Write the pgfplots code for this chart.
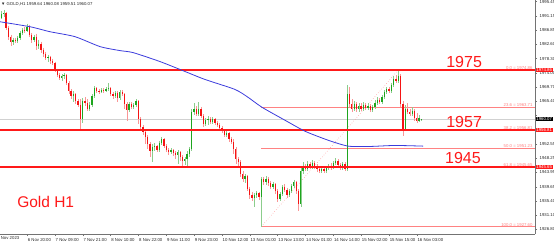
\documentclass[border=0pt]{standalone}
\usepackage{fontspec}
\setmainfont{Liberation Sans}
\usepackage{pgfplots}
\usepackage{pgfplotstable}
\pgfplotsset{compat=1.18}
\definecolor{bull}{RGB}{30,165,30}
\definecolor{bullw}{RGB}{140,205,140}
\definecolor{bear}{RGB}{245,20,20}
\definecolor{bearw}{RGB}{250,150,150}
\definecolor{ma}{RGB}{60,60,220}
\definecolor{fib}{RGB}{255,130,130}
\definecolor{lvl}{RGB}{255,25,25}

\pgfplotstableread{
x o h l c
0 1990.6 1992.7 1990.3 1991.8
1 1991.8 1993.0 1990.9 1992.1
2 1992.1 1992.4 1987.0 1987.6
3 1987.6 1988.2 1984.0 1984.9
4 1984.9 1985.5 1982.2 1983.4
5 1983.4 1984.6 1982.5 1984.0
6 1984.0 1984.6 1983.1 1983.7
7 1983.7 1985.2 1983.1 1984.6
8 1984.6 1986.7 1984.0 1986.1
9 1986.1 1987.6 1985.5 1987.0
10 1987.0 1987.9 1986.1 1986.7
11 1986.7 1988.8 1986.4 1987.9
12 1987.9 1988.5 1984.9 1985.5
13 1985.5 1986.1 1983.1 1984.0
14 1984.0 1985.5 1983.4 1984.9
15 1984.9 1985.8 1981.0 1982.2
16 1982.2 1984.0 1981.3 1982.8
17 1982.8 1983.4 1980.1 1981.0
18 1981.0 1981.6 1978.9 1979.8
19 1979.8 1980.4 1978.0 1978.6
20 1978.6 1979.5 1977.4 1978.9
21 1978.9 1979.2 1976.8 1977.7
22 1977.7 1978.3 1976.5 1977.1
23 1977.1 1977.4 1974.4 1975.0
24 1975.0 1975.3 1972.6 1973.2
25 1973.2 1973.8 1971.7 1972.3
26 1972.3 1973.5 1971.4 1972.9
27 1972.9 1973.8 1972.0 1973.2
28 1973.2 1973.5 1970.2 1970.8
29 1970.8 1971.4 1967.5 1968.4
30 1968.4 1969.0 1966.0 1966.9
31 1966.9 1968.4 1965.1 1967.5
32 1967.5 1967.8 1964.5 1965.4
33 1965.4 1966.0 1963.6 1964.2
34 1964.2 1966.0 1957.0 1960.0
35 1960.0 1966.3 1958.8 1965.4
36 1965.4 1966.6 1963.9 1964.8
37 1964.8 1966.0 1962.4 1963.0
38 1963.0 1965.1 1962.4 1964.2
39 1964.2 1967.5 1963.6 1966.9
40 1966.9 1969.9 1966.3 1969.3
41 1969.3 1969.6 1967.8 1968.4
42 1968.4 1969.0 1967.5 1968.1
43 1968.1 1969.3 1967.8 1968.7
44 1968.7 1969.3 1967.8 1968.4
45 1968.4 1969.6 1968.1 1969.0
46 1969.0 1970.8 1968.4 1969.3
47 1969.3 1969.6 1966.9 1967.5
48 1967.5 1968.1 1966.0 1966.9
49 1966.9 1968.4 1966.3 1967.8
50 1967.8 1968.4 1965.1 1966.3
51 1966.3 1968.7 1965.7 1968.1
52 1968.1 1968.7 1966.9 1967.5
53 1967.5 1967.8 1963.0 1964.5
54 1964.5 1965.1 1959.4 1962.7
55 1962.7 1965.1 1962.1 1964.5
56 1964.5 1965.1 1963.0 1963.6
57 1963.6 1964.8 1963.0 1964.2
58 1964.2 1966.0 1963.6 1965.4
59 1965.4 1965.7 1958.5 1960.0
60 1960.0 1960.6 1956.4 1957.6
61 1957.6 1958.2 1955.2 1956.1
62 1956.1 1956.7 1952.5 1954.6
63 1954.6 1955.2 1951.0 1952.5
64 1952.5 1953.1 1948.6 1950.4
65 1950.4 1952.5 1947.1 1951.6
66 1951.6 1952.8 1950.4 1951.9
67 1951.9 1952.2 1950.1 1950.7
68 1950.7 1953.4 1950.1 1952.8
69 1952.8 1954.6 1952.2 1954.0
70 1954.0 1954.3 1951.3 1951.9
71 1951.9 1952.5 1950.1 1950.7
72 1950.7 1951.3 1949.2 1950.1
73 1950.1 1951.3 1949.5 1950.7
74 1950.7 1951.0 1948.9 1949.8
75 1949.8 1950.4 1948.0 1949.2
76 1949.2 1950.7 1946.5 1950.1
77 1950.1 1950.4 1947.4 1948.6
78 1948.6 1949.2 1945.9 1947.4
79 1947.4 1948.6 1946.2 1948.0
80 1948.0 1950.4 1945.6 1949.5
81 1949.5 1951.6 1948.6 1951.0
82 1951.0 1963.0 1950.4 1962.1
83 1962.1 1964.8 1961.2 1963.0
84 1963.0 1963.9 1960.9 1961.5
85 1961.5 1965.1 1960.9 1963.0
86 1963.0 1963.6 1960.3 1960.9
87 1960.9 1961.5 1957.6 1958.5
88 1958.5 1960.3 1957.9 1959.7
89 1959.7 1960.9 1958.2 1960.0
90 1960.0 1960.6 1958.5 1959.1
91 1959.1 1960.6 1958.5 1960.0
92 1960.0 1960.3 1958.2 1958.8
93 1958.8 1959.4 1957.6 1958.2
94 1958.2 1958.8 1956.7 1957.3
95 1957.3 1957.9 1955.8 1956.7
96 1956.7 1957.0 1954.6 1955.2
97 1955.2 1956.4 1954.6 1955.8
98 1955.8 1956.1 1953.1 1954.0
99 1954.0 1954.6 1952.5 1953.1
100 1953.1 1954.0 1949.5 1951.0
101 1951.0 1951.6 1946.5 1948.0
102 1948.0 1948.6 1945.6 1947.1
103 1947.1 1947.7 1942.6 1943.5
104 1943.5 1944.4 1941.1 1942.0
105 1942.0 1943.5 1940.8 1942.9
106 1942.9 1943.2 1938.4 1939.0
107 1939.0 1939.6 1936.0 1937.2
108 1937.2 1938.1 1935.4 1936.3
109 1936.3 1937.8 1933.6 1937.2
110 1937.2 1938.4 1936.3 1937.8
111 1937.8 1938.1 1935.7 1936.6
112 1936.6 1942.6 1927.6 1942.0
113 1942.0 1942.6 1940.2 1941.1
114 1941.1 1942.9 1940.2 1942.0
115 1942.0 1942.6 1939.9 1940.8
116 1940.8 1941.4 1939.0 1939.6
117 1939.6 1941.1 1939.0 1940.5
118 1940.5 1940.8 1937.5 1938.4
119 1938.4 1939.0 1935.1 1936.0
120 1936.0 1938.1 1935.4 1937.5
121 1937.5 1940.2 1936.9 1939.6
122 1939.6 1940.5 1938.1 1938.7
123 1938.7 1939.3 1936.3 1937.2
124 1937.2 1939.0 1936.6 1938.4
125 1938.4 1940.5 1937.8 1939.9
126 1939.9 1941.7 1939.3 1941.1
127 1941.1 1941.4 1937.5 1938.4
128 1938.4 1939.0 1932.4 1934.5
129 1934.5 1945.6 1933.6 1944.4
130 1944.4 1947.1 1943.5 1945.9
131 1945.9 1946.5 1944.4 1945.0
132 1945.0 1947.4 1944.4 1946.5
133 1946.5 1947.1 1945.0 1945.6
134 1945.6 1947.7 1945.0 1946.8
135 1946.8 1947.4 1945.0 1945.9
136 1945.9 1946.5 1944.1 1945.0
137 1945.0 1945.6 1943.8 1944.4
138 1944.4 1945.6 1943.8 1945.0
139 1945.0 1945.6 1943.8 1944.4
140 1944.4 1945.9 1943.8 1945.3
141 1945.3 1946.5 1944.7 1945.9
142 1945.9 1946.8 1944.7 1945.3
143 1945.3 1947.4 1945.0 1946.8
144 1946.8 1948.3 1946.2 1947.4
145 1947.4 1948.0 1945.6 1946.2
146 1946.2 1946.8 1944.7 1945.3
147 1945.3 1947.1 1944.7 1946.5
148 1946.5 1947.1 1944.4 1945.0
149 1945.0 1970.2 1944.4 1967.5
150 1967.5 1969.6 1963.6 1964.5
151 1964.5 1966.0 1962.1 1963.0
152 1963.0 1965.4 1962.4 1964.5
153 1964.5 1965.1 1962.1 1963.0
154 1963.0 1964.8 1962.1 1963.9
155 1963.9 1964.8 1962.4 1963.0
156 1963.0 1965.1 1962.4 1964.2
157 1964.2 1964.8 1962.7 1963.3
158 1963.3 1964.8 1962.7 1963.9
159 1963.9 1964.5 1962.1 1962.7
160 1962.7 1964.2 1962.1 1963.6
161 1963.6 1965.7 1963.0 1964.8
162 1964.8 1966.6 1964.2 1965.7
163 1965.7 1966.3 1964.5 1965.1
164 1965.1 1967.2 1964.5 1966.6
165 1966.6 1968.7 1966.0 1968.1
166 1968.1 1969.6 1967.5 1969.0
167 1969.0 1969.6 1967.8 1968.4
168 1968.4 1970.8 1967.8 1970.2
169 1970.2 1972.9 1969.6 1972.0
170 1972.0 1973.2 1970.8 1971.4
171 1971.4 1974.86 1970.8 1972.9
172 1972.9 1973.5 1963.6 1964.5
173 1964.5 1965.4 1954.9 1957.0
174 1957.0 1964.2 1956.4 1963.0
175 1963.0 1964.8 1961.5 1962.1
176 1962.1 1963.0 1960.9 1961.5
177 1961.5 1963.6 1960.9 1962.4
178 1962.4 1963.0 1959.4 1960.3
179 1960.3 1961.8 1958.8 1959.4
180 1959.4 1961.2 1959.1 1960.3
181 1959.64 1960.08 1959.51 1960.07
}\candles

\pgfplotstableread{
x v
-0.65 1989.4
12.3 1987.9
20.9 1986.4
31.7 1984.9
42.5 1981.9
51.1 1980.7
56.7 1980.1
68.3 1977.4
79.1 1974.4
87.7 1972.0
100.6 1969.0
106.3 1966.6
112.3 1963.6
122.2 1959.7
130.8 1956.4
140.7 1953.7
149.4 1951.9
158.8 1951.8
169.6 1952.1
181.7 1951.9
}\matable

\pgfplotstableread{
x a b c
-0.65 1974.86 1956.81 1945.65
229.95 1974.86 1956.81 1945.65
}\levels

\begin{document}
\begin{tikzpicture}
\begin{axis}[
  scale only axis, width=535pt, height=234pt,
  at={(0pt,0pt)}, anchor=south west,
  xmin=-0.65, xmax=229.95, ymin=1925.4, ymax=1995.96,
  axis x line*=bottom, axis y line*=right,
  axis line style={black!55, line width=0.5pt},
  tick style={black!55, line width=0.4pt},
  tick align=outside, major tick length=2.2pt,
  xtick={11,23,35,47,59,71,83,95,107,119,131,143,155,167,179},
  xticklabels={6 Nov 20:00, 7 Nov 09:00, 7 Nov 21:00, 8 Nov 10:00, 8 Nov 22:00, 9 Nov 11:00, 9 Nov 23:00, 10 Nov 12:00, 13 Nov 01:00, 13 Nov 13:00, 14 Nov 01:00, 14 Nov 14:00, 15 Nov 02:00, 15 Nov 15:00, 16 Nov 03:00},
  ytick={1926.80,1931.10,1935.40,1939.65,1943.95,1948.25,1952.55,1956.85,1961.15,1965.40,1969.70,1974.00,1978.30,1982.60,1986.85,1991.15,1995.45},
  yticklabels={1926.80,1931.10,1935.40,1939.65,1943.95,1948.25,1952.55,{},{},1965.40,1969.70,1974.00,1978.30,1982.60,1986.85,1991.15,1995.45},
  xticklabel style={font=\fontsize{4.3}{5}\selectfont, anchor=north west, inner sep=0pt, xshift=0.6pt, yshift=-1.8pt, text=black!85},
  yticklabel style={font=\fontsize{4.3}{5}\selectfont, anchor=west, inner sep=0pt, xshift=2.3pt, text=black!85},
  clip=false,
]
% current price line
\addplot[color=black!18, line width=0.5pt] coordinates {(-0.65,1960.07) (229.95,1960.07)};
% fibonacci levels
\addplot[color=fib, line width=0.5pt] coordinates {(112,1963.71) (229.95,1963.71)};
\addplot[color=fib, line width=0.5pt] coordinates {(112,1951.23) (229.95,1951.23)};
\addplot[color=fib, line width=0.5pt] coordinates {(112,1927.60) (229.95,1927.60)};
\addplot[color=fib, dotted, line width=0.5pt] coordinates {(112,1927.60) (171,1974.86)};
% wicks
\addplot[draw=none, mark=none, restrict expr to domain={\thisrow{c}-\thisrow{o}}{0:1000},
  error bars/.cd, y dir=minus, y explicit, error mark=none,
  error bar style={draw=bullw, line width=0.55pt}]
  table[x=x, y=h, y error minus expr=\thisrow{h}-\thisrow{l}] {\candles};
\addplot[draw=none, mark=none, restrict expr to domain={\thisrow{o}-\thisrow{c}}{0.00001:1000},
  error bars/.cd, y dir=minus, y explicit, error mark=none,
  error bar style={draw=bearw, line width=0.55pt}]
  table[x=x, y=h, y error minus expr=\thisrow{h}-\thisrow{l}] {\candles};
% bodies
\addplot[draw=none, mark=none, restrict expr to domain={\thisrow{c}-\thisrow{o}}{0:1000},
  error bars/.cd, y dir=minus, y explicit, error mark=none,
  error bar style={draw=bull, line width=1.3pt}]
  table[x=x, y=c, y error minus expr=\thisrow{c}-\thisrow{o}] {\candles};
\addplot[draw=none, mark=none, restrict expr to domain={\thisrow{o}-\thisrow{c}}{0.00001:1000},
  error bars/.cd, y dir=minus, y explicit, error mark=none,
  error bar style={draw=bear, line width=1.3pt}]
  table[x=x, y=o, y error minus expr=\thisrow{o}-\thisrow{c}] {\candles};
% key levels (drawn over the candles)
\addplot[color=lvl, line width=1.5pt, mark=none] table[x=x, y=a] {\levels};
\addplot[color=lvl, line width=1.5pt, mark=none] table[x=x, y=b] {\levels};
\addplot[color=lvl, line width=1.5pt, mark=none] table[x=x, y=c] {\levels};
% moving average
\addplot[color=ma, line width=0.8pt, smooth, tension=0.4, mark=none] table[x=x, y=v] {\matable};

% fib labels
\node[anchor=south east, inner sep=0.3pt, text=fib, font=\fontsize{4.3}{5}\selectfont] at (axis cs:229.1,1974.86) {0.0 = 1974.86};
\node[anchor=south east, inner sep=0.3pt, text=fib, font=\fontsize{4.3}{5}\selectfont] at (axis cs:229.1,1963.71) {23.6 = 1963.71};
\node[anchor=south east, inner sep=0.3pt, text=fib, font=\fontsize{4.3}{5}\selectfont] at (axis cs:229.1,1956.81) {38.2 = 1956.81};
\node[anchor=south east, inner sep=0.3pt, text=fib, font=\fontsize{4.3}{5}\selectfont] at (axis cs:229.1,1951.23) {50.0 = 1951.23};
\node[anchor=south east, inner sep=0.3pt, text=fib, font=\fontsize{4.3}{5}\selectfont] at (axis cs:229.1,1945.65) {61.8 = 1945.65};
\node[anchor=south east, inner sep=0.3pt, text=fib, font=\fontsize{4.3}{5}\selectfont] at (axis cs:229.1,1927.60) {100.0 = 1927.60};
% big labels
\node[anchor=base, text=lvl, inner sep=0pt, font=\fontsize{16}{16}\selectfont] at (axis cs:199.4,1975.5) {1975};
\node[anchor=base, text=lvl, inner sep=0pt, font=\fontsize{16}{16}\selectfont] at (axis cs:199.4,1957.55) {1957};
\node[anchor=base, text=lvl, inner sep=0pt, font=\fontsize{16}{16}\selectfont] at (axis cs:198.9,1946.7) {1945};
\node[anchor=base west, text=lvl, inner sep=0pt, font=\fontsize{15.5}{16}\selectfont] at (axis cs:6.7,1933.5) {Gold H1};
% price boxes on the scale
\node[anchor=west, fill=lvl, text=white, inner xsep=0.8pt, inner ysep=0.7pt, xshift=0.4pt, font=\fontsize{4.3}{5}\selectfont] at (axis cs:229.95,1974.86) {1974.86};
\node[anchor=west, fill=lvl, text=white, inner xsep=0.8pt, inner ysep=0.7pt, xshift=0.4pt, font=\fontsize{4.3}{5}\selectfont] at (axis cs:229.95,1956.81) {1956.81};
\node[anchor=west, fill=lvl, text=white, inner xsep=0.8pt, inner ysep=0.7pt, xshift=0.4pt, font=\fontsize{4.3}{5}\selectfont] at (axis cs:229.95,1945.65) {1945.65};
\node[anchor=west, fill=black, text=white, inner xsep=0.8pt, inner ysep=0.7pt, xshift=0.4pt, font=\fontsize{4.3}{5}\selectfont] at (axis cs:229.95,1960.07) {1960.07};
% header and first date label
\node[anchor=north west, inner sep=0pt, xshift=1pt, yshift=-2pt, text=black!85, font=\fontsize{4.3}{5}\selectfont] at (rel axis cs:0,1) {▼ GOLD,H1  1959.64 1960.08 1959.51 1960.07};
\node[anchor=north west, inner sep=0pt, yshift=-1.8pt, text=black!85, font=\fontsize{4.3}{5}\selectfont] at (axis cs:-1.9,1925.4) {6 Nov 2023};
\end{axis}
\pgfresetboundingbox
\path (0pt,-8pt) rectangle (554pt,234pt);
\end{tikzpicture}
\end{document}
